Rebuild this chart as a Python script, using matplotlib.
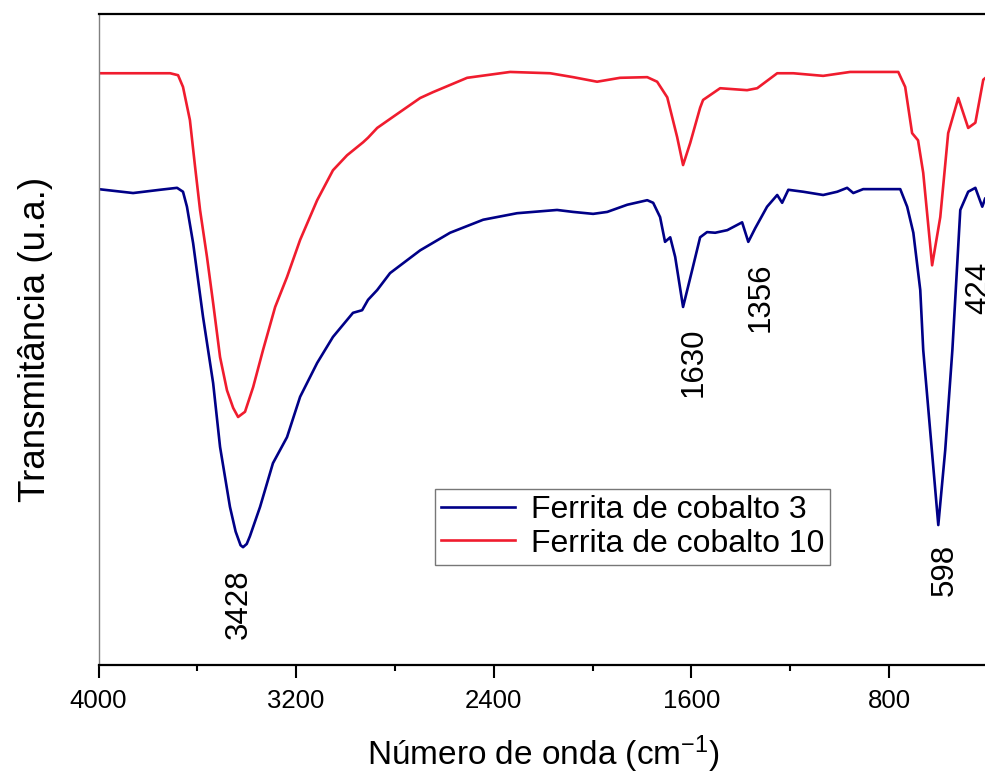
import matplotlib
matplotlib.use("Agg")
import matplotlib.pyplot as plt
from matplotlib.ticker import MultipleLocator

plt.rcParams['font.family'] = ['Liberation Sans', 'DejaVu Sans']
plt.rcParams['mathtext.fontset'] = 'custom'
plt.rcParams['mathtext.rm'] = 'Liberation Sans'
plt.rcParams['mathtext.it'] = 'Liberation Sans:italic'

# spectra (wavenumber, transmittance in arbitrary units)
wn_10 = [4000, 3710, 3678, 3658, 3630, 3609, 3589, 3561, 3536, 3508, 3480, 3455,
         3435, 3407, 3374, 3334, 3285, 3237, 3184, 3115, 3051, 2994, 2929, 2909,
         2872, 2808, 2698, 2646, 2508, 2334, 2172, 2079, 1982, 1889, 1779, 1739,
         1698, 1658, 1634, 1605, 1565, 1553, 1484, 1375, 1334, 1253, 1188, 1067,
         958, 763, 735, 707, 683, 662, 626, 593, 561, 520, 480, 451, 419, 400]
tr_10 = [90.9, 90.9, 90.6, 88.8, 83.7, 76.5, 69.9, 62.7, 55.6, 47.3, 42.2, 39.5,
         38.1, 38.9, 42.7, 48.4, 55.0, 59.6, 65.3, 71.4, 76.0, 78.3, 80.3, 81.0,
         82.5, 84.2, 87.1, 88.0, 90.2, 91.1, 90.9, 90.3, 89.6, 90.2, 90.3, 89.6,
         87.2, 81.1, 76.8, 80.2, 85.6, 86.8, 88.6, 88.3, 88.6, 90.9, 90.9, 90.5,
         91.1, 91.1, 88.8, 81.7, 80.6, 75.6, 61.4, 68.8, 81.7, 87.1, 82.5, 83.3,
         89.9, 90.5]

wn_3 = [4000, 3860, 3751, 3682, 3658, 3642, 3617, 3577, 3536, 3508, 3468, 3445,
        3425, 3415, 3400, 3387, 3346, 3294, 3237, 3184, 3115, 3051, 2970, 2933,
        2909, 2872, 2820, 2698, 2577, 2443, 2306, 2144, 2079, 1998, 1941, 1860,
        1779, 1755, 1727, 1707, 1686, 1666, 1634, 1597, 1565, 1537, 1504, 1455,
        1395, 1370, 1342, 1294, 1253, 1233, 1208, 1148, 1067, 1010, 970, 945, 905,
        755, 727, 702, 674, 662, 633, 601, 573, 544, 512, 480, 451, 423, 411, 400]
tr_3 = [73.1, 72.5, 73.0, 73.3, 72.7, 70.4, 64.8, 53.5, 43.3, 33.5, 24.3, 20.5,
        18.4, 18.1, 18.6, 19.8, 24.3, 31.0, 35.0, 41.2, 46.4, 50.4, 54.1, 54.5,
        56.1, 57.6, 60.2, 63.7, 66.4, 68.4, 69.4, 69.9, 69.6, 69.3, 69.6, 70.7,
        71.4, 71.0, 68.8, 65.0, 65.7, 62.7, 55.0, 60.7, 65.7, 66.5, 66.4, 66.8,
        68.0, 65.0, 67.1, 70.4, 72.2, 71.0, 73.0, 72.7, 72.2, 72.7, 73.3, 72.5,
        73.1, 73.1, 70.4, 66.4, 57.6, 48.4, 35.6, 21.5, 33.0, 48.4, 69.9, 72.7,
        73.3, 70.4, 71.7, 71.5]

# peak labels: text, x, y
peak_text = ['3428', '1630', '1356', '598', '424']
peak_x = [3433, 1590, 1322, 573, 435]
peak_y = [9.4, 46.5, 56.5, 14.6, 57.9]

fig = plt.figure(figsize=(9.85, 7.74), dpi=100)
ax = fig.add_axes([0.1, 0.1408, 0.903, 0.8411])

ax.plot(wn_3, tr_3, color='#000087', lw=1.9, label='Ferrita de cobalto 3')
ax.plot(wn_10, tr_10, color='#F01C2E', lw=1.9, label='Ferrita de cobalto 10')

for t, x, y in zip(peak_text, peak_x, peak_y):
    ax.text(x, y, t, rotation=90, ha='center', va='center', fontsize=22.5)

ax.set_xlim(4000, 400)
ax.set_ylim(0, 100)
ax.xaxis.set_major_locator(MultipleLocator(800))
ax.xaxis.set_minor_locator(MultipleLocator(400))
ax.set_yticks([])
ax.tick_params(axis='x', which='major', direction='out', length=9, width=1.5,
               labelsize=18.5, pad=8, top=False)
ax.tick_params(axis='x', which='minor', direction='out', length=4.5, width=1.5, top=False)

ax.spines['top'].set_linewidth(1.6)
ax.spines['bottom'].set_linewidth(1.6)
ax.spines['left'].set_color('#808080')
ax.spines['left'].set_linewidth(1.0)
ax.spines['right'].set_visible(False)

ax.set_xlabel('Número de onda (cm$^{-1}$)', fontsize=24, labelpad=15)
ax.set_ylabel('Transmitância (u.a.)', fontsize=26.5, labelpad=33)

leg = ax.legend(loc='lower left', bbox_to_anchor=(0.378, 0.1536), fontsize=23,
                frameon=True, fancybox=False, handlelength=2.3, borderpad=0.2,
                labelspacing=0.1, handletextpad=0.5, borderaxespad=0)
leg.get_frame().set_edgecolor('#555555')
leg.get_frame().set_linewidth(1.0)

fig.savefig('out.png', dpi=100)
